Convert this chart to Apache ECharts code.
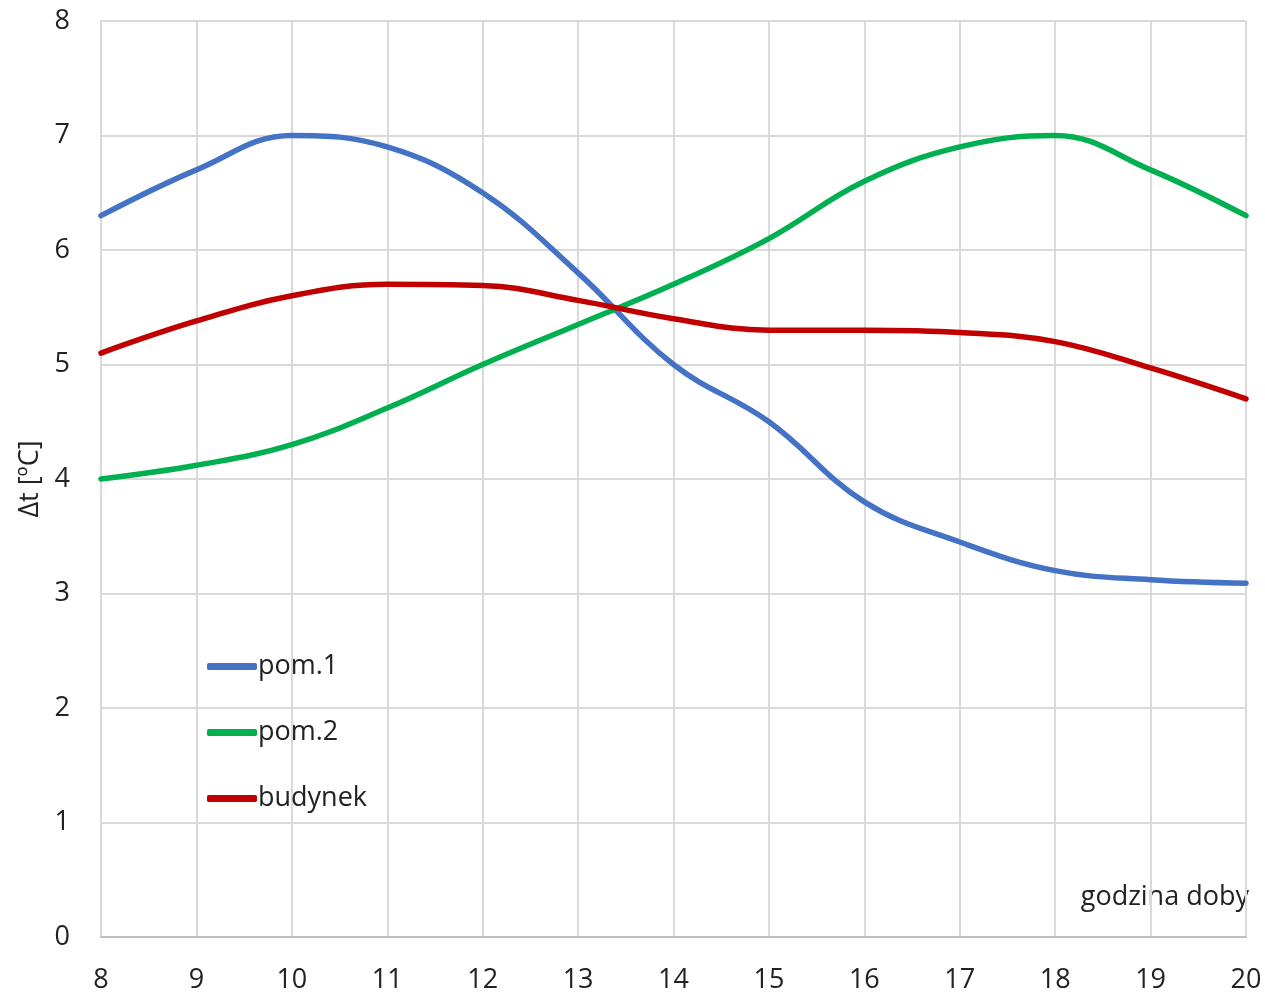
<!DOCTYPE html>
<html>
<head>
<meta charset="utf-8">
<script src="https://cdn.jsdelivr.net/npm/echarts@6/dist/echarts.min.js"></script>
<style>
  html, body { margin: 0; padding: 0; background: #fff; }
  #chart { width: 1265px; height: 994px; }
</style>
</head>
<body>
<div id="chart"></div>
<script>
// godzina doby
const hours = [8, 9, 10, 11, 12, 13, 14, 15, 16, 17, 18, 19, 20];
const pom1 = [6.3, 6.7, 7.0, 6.9, 6.5, 5.8, 5.0, 4.5, 3.8, 3.45, 3.2, 3.12, 3.09];
const pom2 = [4.0, 4.12, 4.3, 4.62, 5.0, 5.35, 5.7, 6.1, 6.6, 6.9, 7.0, 6.7, 6.3];
const budynek = [5.1, 5.38, 5.6, 5.7, 5.69, 5.56, 5.4, 5.3, 5.3, 5.28, 5.2, 4.97, 4.7];

const font = '"Open Sans", sans-serif';

const chart = echarts.init(document.getElementById('chart'));

function line(name, values, color) {
  return {
    name: name,
    type: 'line',
    smooth: 0.4,
    symbol: 'none',
    lineStyle: { width: 5.5, color: color, cap: 'round' },
    itemStyle: { color: color },
    data: hours.map((h, i) => [h, values[i]])
  };
}

const option = {
  animation: false,
  grid: { left: 101, right: 19, top: 21, bottom: 57, outerBoundsMode: 'none' },
  legend: {
    orient: 'vertical',
    left: 202,
    top: 648,
    icon: 'roundRect',
    itemWidth: 50,
    itemHeight: 7,
    itemGap: 39,
    textStyle: { fontSize: 27, color: '#222', fontFamily: font, padding: [0, 0, 0, -4] },
    data: ['pom.1', 'pom.2', 'budynek']
  },
  xAxis: {
    type: 'value',
    min: 8,
    max: 20,
    interval: 1,
    axisLine: { lineStyle: { color: '#bfbfbf', width: 2 } },
    axisTick: { show: false },
    axisLabel: { fontSize: 27, color: '#222', fontFamily: font, margin: 30 },
    splitLine: { lineStyle: { color: '#d9d9d9', width: 2 } }
  },
  yAxis: {
    type: 'value',
    min: 0,
    max: 8,
    interval: 1,
    name: 'Δt [ºC]',
    nameLocation: 'middle',
    nameGap: 56,
    nameTextStyle: { fontSize: 27, color: '#222', fontFamily: font },
    axisLine: { show: true, lineStyle: { color: '#d9d9d9', width: 2 } },
    axisTick: { show: false },
    axisLabel: { fontSize: 27, color: '#222', fontFamily: font, margin: 31 },
    splitLine: { lineStyle: { color: '#d9d9d9', width: 2 } }
  },
  graphic: [{
    type: 'text',
    right: 16,
    top: 884,
    style: { text: 'godzina doby', fontSize: 27, fill: '#222', fontFamily: font }
  }],
  series: [
    line('pom.1', pom1, '#4472C4'),
    line('pom.2', pom2, '#00B050'),
    line('budynek', budynek, '#C00000')
  ]
};

chart.setOption(option);
window.addEventListener('resize', () => chart.resize());
</script>
</body>
</html>
